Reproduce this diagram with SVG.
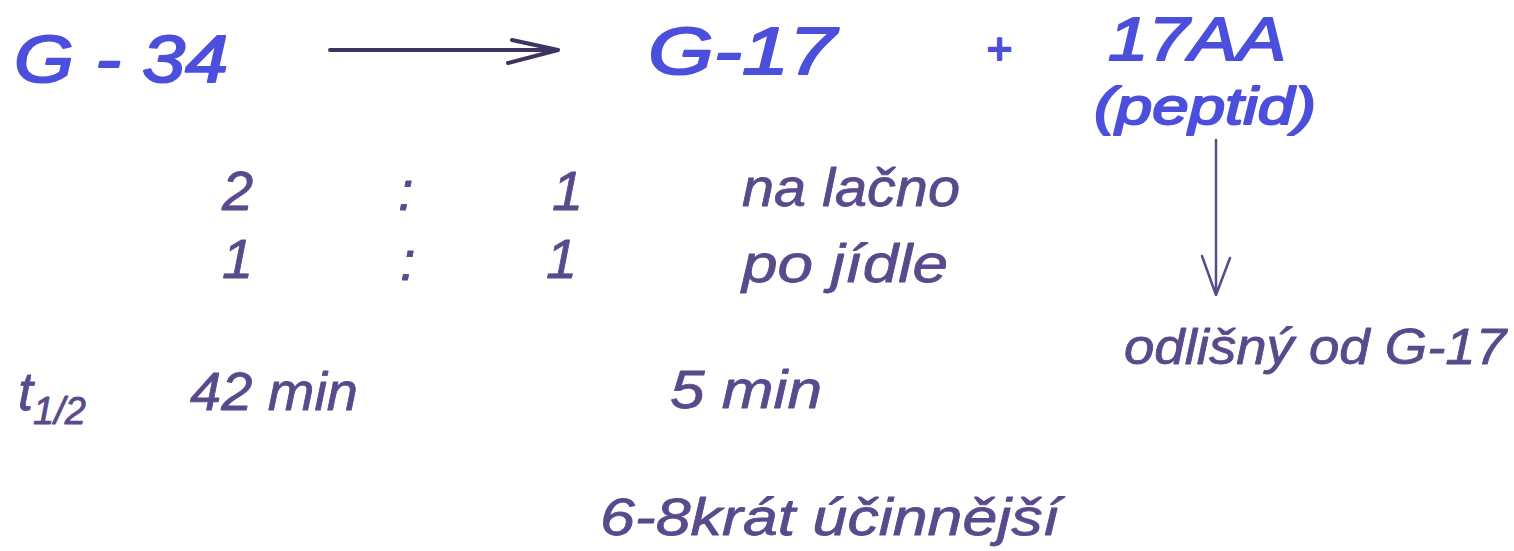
<svg xmlns="http://www.w3.org/2000/svg" width="1514" height="551" viewBox="0 0 1514 551">
<style>
.b{fill:#4b4fdc;font-family:"Liberation Sans",Arial,sans-serif;font-style:italic;stroke:#4b4fdc;stroke-width:2;stroke-linejoin:round}
.p{fill:#594a8c;font-family:"Liberation Sans",Arial,sans-serif;font-style:italic;stroke:#594a8c;stroke-width:0.8;stroke-linejoin:round}
.ln{fill:none;stroke:#3f3360;stroke-width:4;stroke-linecap:round;stroke-linejoin:round}
.ln2{fill:none;stroke:#5a4a8c;stroke-width:2.5;stroke-linecap:round;stroke-linejoin:round}
</style>
<rect width="1514" height="551" fill="#ffffff"/>
<g id="g34"><text class="b" x="14" y="82" font-size="66" textLength="214" lengthAdjust="spacingAndGlyphs">G - 34</text></g>
<g id="g17"><text class="b" x="648" y="74" font-size="66" textLength="188" lengthAdjust="spacingAndGlyphs">G-17</text></g>
<g id="plus"><text class="b" x="986" y="64" font-size="44">+</text></g>
<g id="aa17"><text class="b" x="1108" y="60" font-size="62" textLength="178" lengthAdjust="spacingAndGlyphs">17AA</text>
<text class="b" x="1094" y="124" font-size="52" textLength="222" lengthAdjust="spacingAndGlyphs">(peptid)</text></g>
<g id="ratios">
<text class="p" x="222" y="210" font-size="56">2</text>
<text class="p" x="398" y="210" font-size="56">:</text>
<text class="p" x="552" y="210" font-size="56">1</text>
<text class="p" x="742" y="206" font-size="54" textLength="218" lengthAdjust="spacingAndGlyphs">na lačno</text>
<text class="p" x="222" y="278" font-size="56">1</text>
<text class="p" x="400" y="280" font-size="56">:</text>
<text class="p" x="546" y="278" font-size="56">1</text>
<text class="p" x="742" y="282" font-size="54" textLength="206" lengthAdjust="spacingAndGlyphs">po jídle</text>
</g>
<g id="halflife">
<text class="p" x="18" y="410" font-size="54">t<tspan font-size="38" dy="14">1/2</tspan></text>
<text class="p" x="190" y="410" font-size="54" textLength="168" lengthAdjust="spacingAndGlyphs">42 min</text>
<text class="p" x="670" y="408" font-size="54" textLength="152" lengthAdjust="spacingAndGlyphs">5 min</text>
</g>
<g id="odlisny"><text class="p" x="1124" y="364" font-size="50" textLength="382" lengthAdjust="spacingAndGlyphs">odlišný od G-17</text></g>
<g id="ucinnejsi"><text class="p" x="600" y="535" font-size="52" textLength="460" lengthAdjust="spacingAndGlyphs">6-8krát účinnější</text></g>
<g id="connectors">
<path class="ln" d="M330 50 L558 50 M512 40 L558 50 L508 63"/>
<path class="ln2" d="M1216 140 L1216 295 M1202 256 L1216 295 L1230 258"/>
</g>
</svg>
